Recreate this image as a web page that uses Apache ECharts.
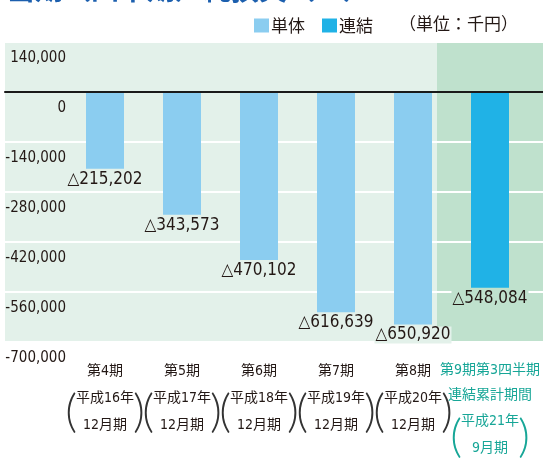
<!DOCTYPE html>
<html>
<head>
<meta charset="utf-8">
<script src="https://cdn.jsdelivr.net/npm/echarts@6/dist/echarts.min.js"></script>
<style>
  html, body { margin: 0; padding: 0; background: #fff; }
  #chart { width: 543px; height: 460px; }
</style>
</head>
<body>
<div id="chart"></div>
<script>
// 期ごとのラベル
const categories = ['第4期', '第5期', '第6期', '第7期', '第8期', '第9期第3四半期']
const subTitle = '連結累計期間'
const years = ['平成16年', '平成17年', '平成18年', '平成19年', '平成20年', '平成21年']
const months = ['12月期', '12月期', '12月期', '12月期', '12月期', '9月期']
// 単位：千円（損失はマイナス）
const single = [-215202, -343573, -470102, -616639, -650920, null]
const consolidated = [null, null, null, null, null, -548084]
const yTicks = { min: -700000, max: 140000, interval: 140000 }

const NUM_FONT = "'DejaVu Sans Condensed', 'Liberation Sans', 'Noto Sans CJK JP', sans-serif"
const JP_FONT = "'DejaVu Sans Condensed', 'Liberation Sans', 'Noto Sans CJK JP', sans-serif"
const PAREN_FONT = "Lato, Inter, 'DejaVu Sans', sans-serif"
const TEXT = '#231815'
const TEAL = '#17a697'
const LIGHT_BG = '#e3f1ea'
const DARK_BG = '#bfe1cd'

function comma(v) {
  const s = String(Math.abs(v)).replace(/\B(?=(\d{3})+(?!\d))/g, ',')
  return v < 0 ? '-' + s : s
}
function loss(p) {
  return '△' + comma(Math.abs(p.value))
}

const chart = echarts.init(document.getElementById('chart'), null, { renderer: 'canvas' })

const option = {
  animation: false,
  title: [
    {
      text: '当期（四半期）純損失（△）',
      left: 2,
      top: -30,
      textStyle: { color: '#1c5fae', fontSize: 28, fontWeight: 'bold', fontFamily: "'Noto Sans CJK JP', sans-serif" }
    },
    {
      text: '（単位：千円）',
      right: 20,
      top: 10,
      textStyle: { color: TEXT, fontSize: 17, fontWeight: 'normal', fontFamily: "'Noto Sans CJK JP', sans-serif" }
    }
  ],
  legend: {
    left: 249,
    top: 12,
    itemWidth: 15,
    itemHeight: 14,
    itemGap: 17,
    icon: 'rect',
    textStyle: { color: TEXT, fontSize: 17, padding: [0, 0, 0, -3], fontFamily: "'Noto Sans CJK JP', sans-serif" },
    data: ['単体', '連結']
  },
  grid: [
    // 背景とグリッド線
    { left: 5, right: 0, top: 42, bottom: 118, show: true, backgroundColor: LIGHT_BG, borderWidth: 0, z: -2, outerBoundsMode: 'none', containLabel: false },
    // 棒グラフ
    { left: 66.5, right: 14.5, top: 42, bottom: 118, outerBoundsMode: 'none', containLabel: false },
    // 第9期の背景
    { left: 437, right: 0, top: 42, bottom: 117, show: true, backgroundColor: DARK_BG, borderWidth: 0, z: -1, outerBoundsMode: 'none', containLabel: false }
  ],
  xAxis: [
    {
      gridIndex: 0, type: 'value', min: 0, max: 1, z: 5, position: 'bottom',
      axisLine: { show: true, onZero: true, lineStyle: { color: '#1a1a1a', width: 2 } },
      axisTick: { show: false }, axisLabel: { show: false }, splitLine: { show: false }
    },
    {
      gridIndex: 1, type: 'category', data: categories, position: 'bottom',
      axisLine: { show: false, onZero: false }, axisTick: { show: false },
      axisLabel: {
        interval: 0, margin: 16,
        formatter: function (v, i) {
          if (i === 5) {
            return '{t|' + v + '}\n{t|' + subTitle + '}\n{u|' + years[i] + '}\n{u|' + months[i] + '}'
          }
          return '{n|' + v + '}\n{n|' + years[i] + '}\n{n|' + months[i] + '}'
        },
        rich: {
          n: { fontSize: 14, lineHeight: 27, color: TEXT, fontFamily: JP_FONT },
          t: { fontSize: 14, lineHeight: 25, color: TEAL, fontFamily: JP_FONT },
          u: { fontSize: 14, lineHeight: 27, color: TEAL, fontFamily: JP_FONT }
        }
      }
    },
    {
      gridIndex: 1, type: 'category', data: categories, position: 'bottom', offset: 0,
      axisLine: { show: false, onZero: false }, axisTick: { show: false },
      axisLabel: {
        interval: 0, margin: 44,
        formatter: function (v, i) {
          if (i === 5) return '{sp| }\n{q|(}{g| }{q|)}'
          return '{p|(}{g| }{p|)}'
        },
        rich: {
          p: { fontSize: 46, lineHeight: 52, color: '#333333', fontFamily: PAREN_FONT, fontWeight: 300 },
          q: { fontSize: 46, lineHeight: 52, color: TEAL, fontFamily: PAREN_FONT, fontWeight: 300 },
          g: { width: 56, fontSize: 10, lineHeight: 52 },
          sp: { fontSize: 10, lineHeight: 25 }
        }
      }
    },
    {
      gridIndex: 2, type: 'value', show: false
    }
  ],
  yAxis: [
    {
      gridIndex: 0, type: 'value', min: yTicks.min, max: yTicks.max, interval: yTicks.interval,
      axisLine: { show: false }, axisTick: { show: false },
      splitLine: { show: true, lineStyle: { color: '#ffffff', width: 2 } },
      axisLabel: {
        margin: -61, verticalAlign: 'top', lineHeight: 32,
        fontSize: 15, color: TEXT, fontFamily: NUM_FONT,
        formatter: comma
      }
    },
    {
      gridIndex: 1, type: 'value', min: yTicks.min, max: yTicks.max, interval: yTicks.interval,
      show: false
    },
    {
      gridIndex: 2, type: 'value', show: false
    }
  ],
  series: [
    {
      name: '単体', type: 'bar', xAxisIndex: 1, yAxisIndex: 1,
      data: single, barWidth: 38, barGap: '-100%',
      itemStyle: { color: '#8bcdf0' },
      label: {
        show: true, position: 'bottom', distance: 2, formatter: loss,
        fontSize: 17, color: TEXT, fontFamily: NUM_FONT,
        backgroundColor: LIGHT_BG, padding: [0, 1]
      }
    },
    {
      name: '連結', type: 'bar', xAxisIndex: 1, yAxisIndex: 1,
      data: consolidated, barWidth: 38, barGap: '-100%',
      itemStyle: { color: '#20b2e6' },
      label: {
        show: true, position: 'bottom', distance: 2, formatter: loss,
        fontSize: 17, color: TEXT, fontFamily: NUM_FONT,
        backgroundColor: DARK_BG, padding: [0, 1]
      }
    }
  ]
}

chart.setOption(option)
</script>
</body>
</html>
